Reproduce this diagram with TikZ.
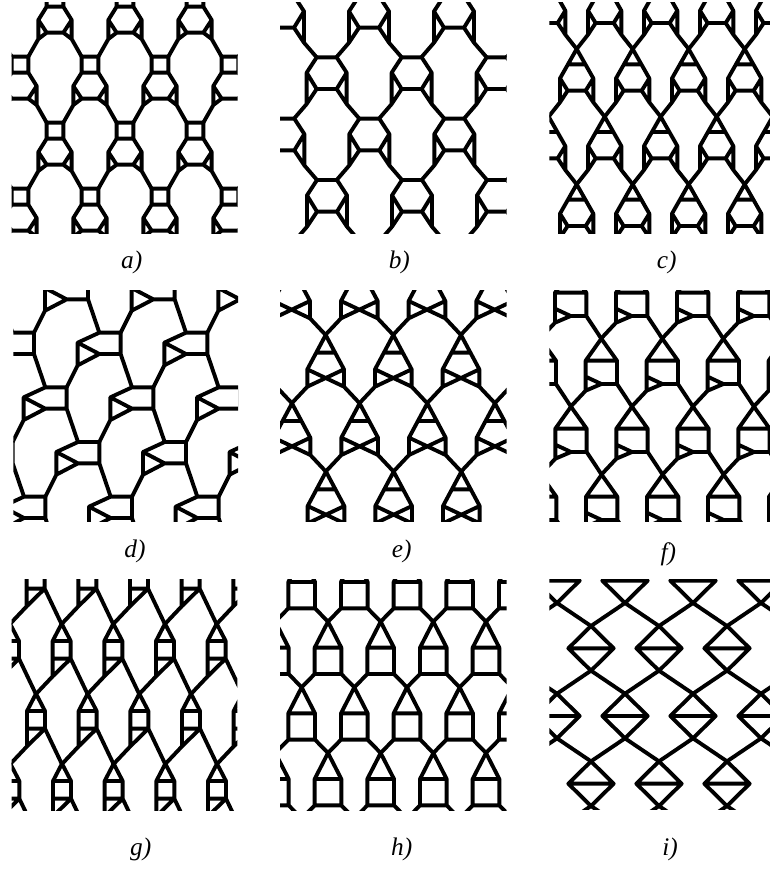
\documentclass[tikz,border=0pt]{standalone}
\usepackage{fontspec}
\setmainfont{Liberation Serif}
\tikzset{
  lat/.style={line width=2.9pt,line join=round,line cap=butt,black},
  tag/.style={anchor=base,font=\fontsize{19}{21}\selectfont\itshape,inner sep=0pt}
}
\newcommand{\panela}[8]{\def\pX{#1}\def\pY{#2}\def\cA{#3}\def\cB{#4}\def\cC{#5}\def\cD{#6}\def\oX{#7}\def\oY{#8}\panelb}
\newcommand{\panelb}[5]{%
  \begin{scope}[shift={(\pX,\pY)}]
    \clip (\cA,\cB) rectangle (\cC,\cD);
    \foreach \i in {-4,...,6}{\foreach \j in {-2,...,5}{
      \begin{scope}[shift={({\oX+\i*(#1)+\j*(#3)},{\oY+\i*(#2)+\j*(#4)})}]
        \draw[lat] #5;
      \end{scope}
    }}
  \end{scope}}
\begin{document}
\begin{tikzpicture}[x=.25pt,y=-.25pt]
\useasboundingbox[fill=white] (0,0) rectangle (2310,2607);
% a
\panela{0}{0}{35}{8}{713}{700}{270}{194}{210}{0}{105}{198}{
 (-25,-24) rectangle (25,24)
 (-25,24)--(-50,64)--(-50,121)--(-80,174)
 (25,24)--(50,64)--(50,121)--(80,174)
 (-50,64)--(-25,102)--(25,102)--(50,64)
 (-25,102)--(-50,121) (25,102)--(50,121)}
% b
\panela{810}{0}{30}{8}{710}{700}{170}{172}{255}{0}{128}{184}{
 (-30,0)--(30,0)--(60,46)--(60,140)--(98,184)
 (-30,0)--(-60,46)--(-60,140)--(-98,184)
 (-60,46)--(-30,95)--(30,95)--(60,46)
 (-30,95)--(-60,140) (30,95)--(60,140)}
% c
\panela{1590}{0}{58}{8}{720}{700}{308}{147}{168}{0}{84}{203}{
 (0,0)--(-50,88)--(-50,160)--(-84,203)
 (0,0)--(50,88)--(50,160)--(84,203)
 (-26,46)--(26,46)
 (-50,88)--(-27,125)--(27,125)--(50,88)
 (-27,125)--(-50,160) (27,125)--(50,160)}
% d
\panela{0}{840}{40}{30}{714}{725}{298}{158}{260}{0}{98}{164}{
 (0,0)--(64,0)--(64,64)--(0,64)
 (0,0)--(-65,30)--(0,64)--(-65,98)
 (-65,30)--(-65,98)--(-98,164)
 (64,64)--(98,164)}
% e
\panela{810}{840}{30}{30}{710}{725}{370}{165}{203}{0}{102}{205}{
 (0,0)--(-55,103)--(-55,155)--(-102,205)
 (0,0)--(55,103)--(55,155)--(102,205)
 (-27,53)--(27,53)
 (-55,103)--(55,155) (55,103)--(-55,155)}
% f
\panela{1590}{840}{58}{30}{720}{725}{397}{176}{183}{0}{92}{204}{
 (0,0)--(-47,66)--(-47,156)--(-92,204)
 (0,0)--(47,66)--(47,136)--(92,204)
 (-47,66)--(47,66)
 (47,136)--(0,136)--(-47,114)
 (0,136)--(-47,156)}
% g
\panela{0}{1710}{35}{28}{712}{720}{340}{161}{155}{0}{78}{210}{
 (0,0)--(-27,52)--(-27,158)--(-78,212)
 (0,0)--(27,52)--(27,105)--(78,212)
 (-27,52)--(27,52)
 (-27,105)--(27,105)--(-27,158)}
% h
\panela{810}{1710}{30}{28}{710}{720}{332}{155}{158}{0}{79}{197}{
 (0,0)--(-40,78)--(-40,157)--(-79,197)
 (0,0)--(40,78)--(40,157)--(79,197)
 (-40,78)--(40,78)
 (-40,157)--(40,157)}
% i
\panela{1590}{1710}{58}{27}{720}{718}{183}{235}{204}{0}{102}{203}{
 (-68,0)--(68,0)
 (-68,0)--(0,-67)--(68,0)--(0,67)--cycle
 (0,67)--(102,136) (0,67)--(-102,136)}
% labels
\node[tag] (la) at (395,804) {a)};
\node[tag] (lb) at (1198,804) {b)};
\node[tag] (lc) at (2000,804) {c)};
\node[tag] (ld) at (405,1672) {d)};
\node[tag] (le) at (1205,1672) {e)};
\node[tag] (lf) at (2005,1680) {f)};
\node[tag] (lg) at (422,2565) {g)};
\node[tag] (lh) at (1205,2565) {h)};
\node[tag] (li) at (2010,2565) {i)};
\end{tikzpicture}
\end{document}
